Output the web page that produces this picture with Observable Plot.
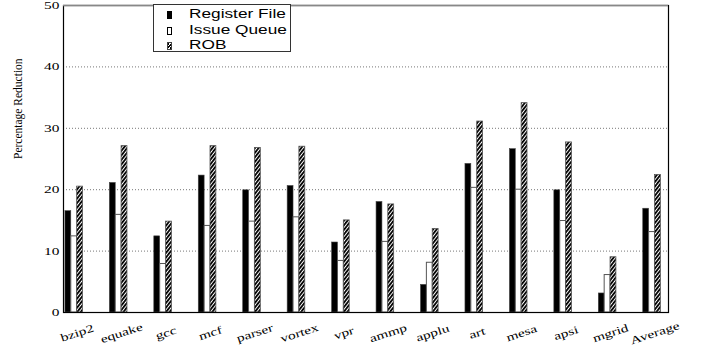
<!DOCTYPE html>
<html>
<head>
<meta charset="utf-8">
<script src="https://cdn.jsdelivr.net/npm/d3@7"></script>
<script src="https://cdn.jsdelivr.net/npm/@observablehq/plot@0.6"></script>
<style>
  html, body { margin: 0; padding: 0; background: #fff; }
  #chart { position: relative; width: 705px; height: 349px; }
  #legend {
    position: absolute; left: 153px; top: 4px; width: 138px; height: 48px;
    border: 1.5px solid #333; background: #fff; box-sizing: border-box;
    font-family: "Liberation Sans", Arial, sans-serif; font-size: 12.5px;
  }
  .entry { position: absolute; left: 0; height: 14px; width: 100%; }
  .swatch { position: absolute; left: 13px; top: 3px; width: 5px; height: 8px; box-sizing: border-box; }
  .entry span { position: absolute; left: 35px; top: -1px; white-space: nowrap;
    transform: scaleX(1.38); transform-origin: left center; }
</style>
</head>
<body>
<div id="chart"></div>
<script>
// Percentage reduction per benchmark, for three structures
const categories = ["bzip2", "equake", "gcc", "mcf", "parser", "vortex", "vpr", "ammp", "applu", "art", "mesa", "apsi", "mgrid", "Average"];
const seriesNames = ["Register File", "Issue Queue", "ROB"];
const registerFile = [16.5, 21.1, 12.4, 22.3, 19.9, 20.6, 11.4, 18.0, 4.5, 24.2, 26.6, 19.9, 3.1, 16.9];
const issueQueue = [12.4, 15.9, 7.9, 14.1, 14.8, 15.5, 8.4, 11.5, 8.1, 20.3, 20.0, 14.9, 6.1, 13.1];
const rob = [20.5, 27.1, 14.8, 27.1, 26.8, 27.0, 15.0, 17.6, 13.6, 31.1, 34.1, 27.7, 9.0, 22.4];
const yTicks = [0, 10, 20, 30, 40, 50];
const yLabel = "Percentage Reduction";

// Layout: groups sit on an index axis; each bar takes a fixed fraction of a step
const barWidth = 0.132;
const xDomain = [-0.241, 13.37];
const textStretch = 1.4;

const seriesValues = [registerFile, issueQueue, rob];
const rows = seriesValues.map((values, j) =>
  values.map((value, i) => ({
    category: categories[i],
    series: seriesNames[j],
    value,
    x1: i + (j - 1.5) * barWidth,
    x2: i + (j - 0.5) * barWidth
  }))
);

const serif = "Liberation Serif, Times New Roman, serif";

const svg = Plot.plot({
  width: 705,
  height: 349,
  marginLeft: 63,
  marginRight: 37,
  marginTop: 5,
  marginBottom: 37,
  style: { background: "#fff", fontFamily: serif },
  x: { domain: xDomain, axis: null },
  y: { domain: [0, 50] },
  marks: [
    Plot.ruleY(yTicks.filter(t => t > 0 && t < 50), { stroke: "#777", strokeDasharray: "1,2" }),
    Plot.rectY(rows[0], { x1: "x1", x2: "x2", y: "value", fill: "black", stroke: "#444", strokeWidth: 0.6 }),
    Plot.rectY(rows[1], { x1: "x1", x2: "x2", y: "value", fill: "white", stroke: "#555", strokeWidth: 1 }),
    Plot.rectY(rows[2], { x1: "x1", x2: "x2", y: "value", fill: "url(#rob-hatch)", stroke: "#555", strokeWidth: 0.8 }),
    Plot.frame({ stroke: "black", strokeWidth: 1.2 }),
    Plot.ruleY([50], { stroke: "#888", strokeWidth: 1.6 }),
    Plot.axisY(yTicks, { tickSize: 0, tickPadding: 4, fontSize: 11, fontFamily: serif, label: null }),
    Plot.text([yLabel], { frameAnchor: "left", dx: -45, rotate: -90, fontSize: 11.5, fontFamily: serif, fill: "black" }),
    Plot.text(categories, { x: (d, i) => i, frameAnchor: "bottom", text: d => d, dx: 4, dy: 24, rotate: -18, fontSize: 11, fontFamily: serif, fill: "black" })
  ]
});

// Hatch pattern for the ROB bars
d3.select(svg).insert("defs", ":first-child").html(
  `<pattern id="rob-hatch" width="2.8" height="2.8" patternUnits="userSpaceOnUse" patternTransform="rotate(38)">
     <rect width="2.8" height="2.8" fill="white"></rect>
     <rect width="1.8" height="2.8" fill="black"></rect>
   </pattern>`
);

// Wide lettering: stretch tick and category labels horizontally
for (const t of svg.querySelectorAll("text")) {
  if (t.textContent === yLabel) continue;
  const tr = t.getAttribute("transform");
  if (tr) {
    t.setAttribute("transform", `${tr} scale(${textStretch},1)`);
  } else {
    const x = +t.getAttribute("x") || 0;
    t.removeAttribute("x");
    t.setAttribute("transform", `translate(${x},0) scale(${textStretch},1)`);
  }
}

const chart = document.getElementById("chart");
chart.appendChild(svg);

// Legend box drawn inside the plot area
const legendFills = [
  "background:#000;",
  "background:#fff;border:1px solid #000;",
  "background:repeating-linear-gradient(-50deg,#000 0 1.4px,#fff 1.4px 2.4px);border:0.5px solid #444;"
];
const legend = document.createElement("div");
legend.id = "legend";
seriesNames.forEach((name, j) => {
  const entry = document.createElement("div");
  entry.className = "entry";
  entry.style.top = `${3 + j * 15.5}px`;
  const sw = document.createElement("div");
  sw.className = "swatch";
  sw.style.cssText = legendFills[j];
  const label = document.createElement("span");
  label.textContent = name;
  entry.appendChild(sw);
  entry.appendChild(label);
  legend.appendChild(entry);
});
chart.appendChild(legend);
</script>
</body>
</html>
